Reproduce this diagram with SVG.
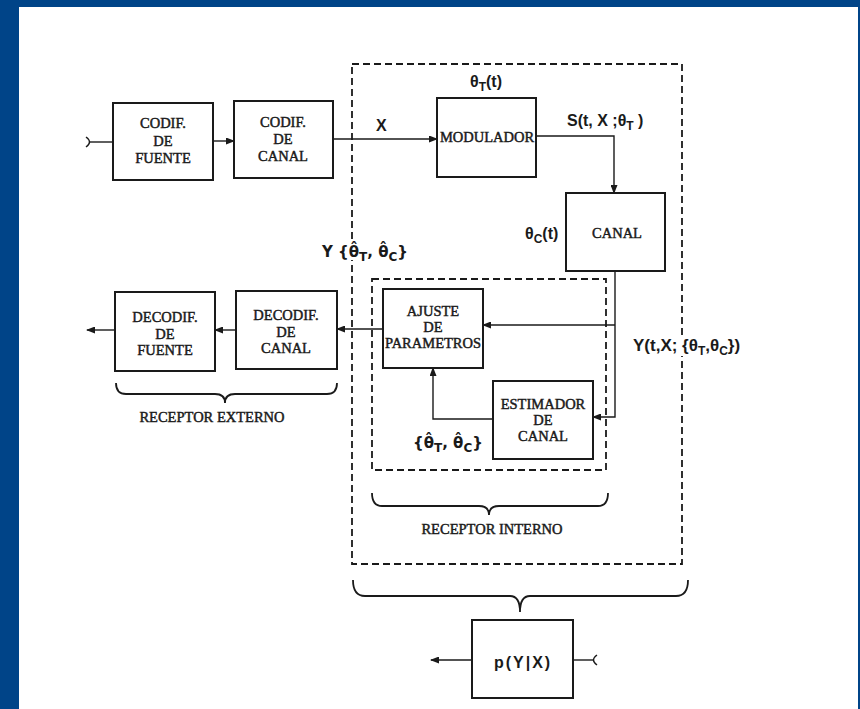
<svg xmlns="http://www.w3.org/2000/svg" width="860" height="709" viewBox="0 0 860 709">
<style>
.box{fill:#fff;stroke:#1a1a1a;stroke-width:2}
.dash{fill:none;stroke:#1a1a1a;stroke-width:1.8;stroke-dasharray:7,4}
.ln{fill:none;stroke:#1a1a1a;stroke-width:1.4}
.arr{marker-end:url(#ah)}
.st{font-family:"Liberation Serif","Times New Roman",serif;font-size:14.5px;fill:#1a1a1a;stroke:#1a1a1a;stroke-width:0.45;text-anchor:middle}
.ss{font-family:"Liberation Sans",Arial,sans-serif;font-size:16px;font-weight:bold;fill:#1a1a1a}
.hat{font-family:"DejaVu Sans",sans-serif;font-size:15px;font-weight:bold;fill:#1a1a1a}
.sub{font-size:12px}
.brace{fill:none;stroke:#1a1a1a;stroke-width:1.8}
</style>
<defs>
<marker id="ah" markerWidth="9" markerHeight="7" refX="8" refY="3.5" orient="auto" markerUnits="userSpaceOnUse">
<path d="M0,0 L9,3.5 L0,7 z" fill="#1a1a1a"/>
</marker>
</defs>
<rect x="0" y="0" width="860" height="709" fill="#fff"/>
<rect x="0" y="0" width="860" height="7" fill="#004488"/>
<rect x="0" y="0" width="19" height="709" fill="#004488"/>
<rect x="858" y="0" width="2" height="709" fill="#004488"/>

<g id="outer-box"><rect class="dash" x="352" y="64" width="330" height="500"/></g>
<g id="inner-box"><rect class="dash" x="372" y="279" width="234" height="191"/></g>

<g id="connectors">
<path class="ln" d="M86,137 Q93,142 86,147"/>
<path class="ln" d="M90,142 H113"/>
<path class="ln arr" d="M213,141 H234"/>
<path class="ln arr" d="M333,139 H437"/>
<path class="ln arr" d="M536,136 H614 V193"/>
<path class="ln arr" d="M615,271 V417 H593"/>
<path class="ln arr" d="M615,325 H483"/>
<path class="ln arr" d="M493,419 H433 V368"/>
<path class="ln arr" d="M383,329 H337"/>
<path class="ln arr" d="M236,330 H215"/>
<path class="ln arr" d="M115,330 H87"/>
<path class="ln arr" d="M472,660 H431"/>
<path class="ln" d="M573,660 H593"/>
<path class="ln" d="M597,655 Q590,660 597,665"/>
</g>

<g id="codif-fuente"><rect class="box" x="113" y="103" width="100" height="77"/>
<text class="st" x="163" y="128">CODIF.</text><text class="st" x="163" y="146">DE</text><text class="st" x="163" y="163">FUENTE</text></g>
<g id="codif-canal"><rect class="box" x="234" y="101" width="99" height="77"/>
<text class="st" x="283" y="127">CODIF.</text><text class="st" x="283" y="144">DE</text><text class="st" x="283" y="161">CANAL</text></g>
<g id="modulador"><rect class="box" x="437" y="98" width="99" height="79"/>
<text class="st" x="487" y="142">MODULADOR</text></g>
<g id="canal"><rect class="box" x="566" y="193" width="99" height="78"/>
<text class="st" x="617" y="238">CANAL</text></g>
<g id="ajuste"><rect class="box" x="383" y="289" width="100" height="79"/>
<text class="st" x="433" y="316">AJUSTE</text><text class="st" x="433" y="332">DE</text><text class="st" x="433" y="348">PARAMETROS</text></g>
<g id="estimador"><rect class="box" x="493" y="381" width="100" height="78"/>
<text class="st" x="543" y="409">ESTIMADOR</text><text class="st" x="543" y="425">DE</text><text class="st" x="543" y="441">CANAL</text></g>
<g id="decodif-canal"><rect class="box" x="236" y="291" width="101" height="78"/>
<text class="st" x="286" y="320">DECODIF.</text><text class="st" x="286" y="337">DE</text><text class="st" x="286" y="353">CANAL</text></g>
<g id="decodif-fuente"><rect class="box" x="115" y="292" width="100" height="79"/>
<text class="st" x="165" y="322">DECODIF.</text><text class="st" x="165" y="339">DE</text><text class="st" x="165" y="355">FUENTE</text></g>
<g id="pyx"><rect class="box" x="472" y="620" width="101" height="78"/>
<text class="ss" x="523" y="668" text-anchor="middle" letter-spacing="2">p(Y|X)</text></g>

<g id="braces">
<path class="brace" d="M116,383 Q116,394 126,394 H215 Q225,394 225,403 Q225,394 235,394 H327 Q337,394 337,383"/>
<path class="brace" d="M372,493 Q372,506 382,506 H479 Q489,506 489,515 Q489,506 499,506 H598 Q608,506 608,493"/>
<path class="brace" d="M353,580 Q353,596 365,596 H510 Q520,596 520,612 Q520,596 530,596 H676 Q688,596 688,580"/>
</g>

<g id="labels">
<rect x="348" y="242" width="8" height="18" fill="#fff"/>
<rect x="678" y="336" width="8" height="20" fill="#fff"/>
<text class="st" x="212" y="422">RECEPTOR EXTERNO</text>
<text class="st" x="492" y="534">RECEPTOR INTERNO</text>
<text class="ss" x="376" y="131">X</text>
<text class="ss" x="470" y="87">θ<tspan class="sub" dy="4">T</tspan><tspan dy="-4">(t)</tspan></text>
<text class="ss" x="567" y="126">S(t, X ;θ<tspan class="sub" dy="4">T</tspan><tspan dy="-4"> )</tspan></text>
<text class="ss" x="525" y="239">θ<tspan class="sub" dy="4">C</tspan><tspan dy="-4">(t)</tspan></text>
<text class="hat" x="322" y="257">Y {θ̂<tspan class="sub" dy="4">T</tspan><tspan dy="-4">, θ̂</tspan><tspan class="sub" dy="4">C</tspan><tspan dy="-4">}</tspan></text>
<text class="ss" x="633" y="351" style="font-size:17px">Y(t,X; {θ<tspan class="sub" dy="4">T</tspan><tspan dy="-4">,θ</tspan><tspan class="sub" dy="4">C</tspan><tspan dy="-4">})</tspan></text>
<text class="hat" x="413" y="448">{θ̂<tspan class="sub" dy="4">T</tspan><tspan dy="-4">, θ̂</tspan><tspan class="sub" dy="4">C</tspan><tspan dy="-4">}</tspan></text>
</g>
</svg>
